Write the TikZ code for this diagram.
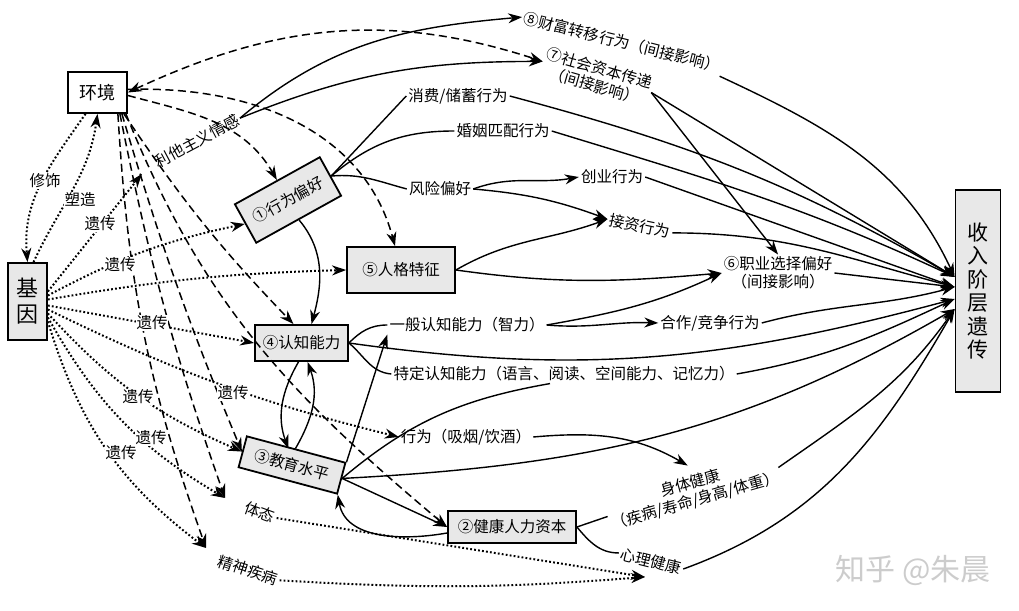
\documentclass[tikz,border=0pt]{standalone}
\usepackage{fontspec}
\setmainfont{Noto Sans CJK SC}
\usetikzlibrary{arrows.meta}

\begin{document}
\begin{tikzpicture}[x=1pt,y=1pt,
    font=\fontsize{15.5}{18}\selectfont,
    >={Stealth[length=14pt,width=10pt]},
    box/.style={draw, line width=1.8pt, fill=gray!18, inner sep=3pt},
    lab/.style={inner sep=2pt},
    tag/.style={fill=white, inner sep=0.5pt},
    arr/.style={->, line width=1.4pt},
    ln/.style={line width=1.4pt},
    genearr/.style={->, line width=2pt, dash pattern=on 1.8pt off 2.2pt},
    envarr/.style={->, line width=1.5pt, dash pattern=on 8pt off 4.5pt}]
    \useasboundingbox (0,0) rectangle (1019,610);

    %boxes
    \node[box, fill=white, minimum width=59pt, minimum height=41pt, font=\fontsize{18}{20}\selectfont] (env) at (97.5,517.5) {环境};
    \node[box, minimum width=39pt, minimum height=77pt, align=center, font=\fontsize{22}{26}\selectfont] (gene) at (27.5,308.5) {基\\因};
    \node[box, minimum width=45pt, minimum height=202pt, align=center, font=\fontsize{21}{23.5}\selectfont] (inc) at (978,319) {收\\入\\阶\\层\\遗\\传};
    \node[box, rotate=29, minimum width=97pt, minimum height=44pt] (pref) at (288,410) {①行为偏好};
    \node[box, minimum width=108pt, minimum height=46pt] (pers) at (401,340) {⑤人格特征};
    \node[box, minimum width=93pt, minimum height=36pt] (cog) at (301.5,267) {④认知能力};
    \node[box, rotate=-15, minimum width=102pt, minimum height=32pt] (edu) at (292,145) {③教育水平};
    \node[box, minimum width=128pt, minimum height=32pt] (health) at (512,83) {②健康人力资本};

    %labels
    \node[lab, rotate=-14] (wealth) at (622,568) {⑧财富转移行为（间接影响）};
    \node[lab, rotate=-16, align=center] (social) at (597,533) {⑦社会资本传递\\（间接影响）};
    \node[lab] (cons) at (458,514) {消费/储蓄行为};
    \node[lab] (marr) at (503,479) {婚姻匹配行为};
    \node[lab] (risk) at (440,421) {风险偏好};
    \node[lab] (entr) at (612,433) {创业行为};
    \node[lab, rotate=-12] (inv) at (640,384) {接资行为};
    \node[lab, align=center] (occ) at (778,337) {⑥职业选择偏好\\（间接影响）};
    \node[lab] (gcog) at (467,285) {一般认知能力（智力）};
    \node[lab] (coop) at (710,287) {合作/竞争行为};
    \node[lab] (scog) at (564,236) {特定认知能力（语言、阅读、空间能力、记忆力）};
    \node[lab] (smoke) at (466,173) {行为（吸烟/饮酒）};
    \node[lab, rotate=16, align=center] (phys) at (693,118) {身体健康\\（疾病/寿命/身高/体重）};
    \node[lab, rotate=-14] (ment) at (651,49) {心理健康};
    \node[lab, rotate=-20] (post) at (260,98) {体态};
    \node[lab, rotate=-18] (mind) at (248,40) {精神疾病};
    \node[lab, rotate=28] (altr) at (197,469) {利他主义情感};
    \node[text=gray!40, font=\fontsize{30}{32}\selectfont] (mark) at (913,40) {知乎 @朱晨};

    \coordinate (postin) at (225,112);
    \coordinate (mindin) at (206,62);
    \coordinate (mentin) at (645,33);
    \coordinate (inA) at ([yshift=14pt]inc.west);
    \coordinate (inB) at ([yshift=4pt]inc.west);
    \coordinate (inC) at ([yshift=-8pt]inc.west);
    \coordinate (inD) at ([yshift=-18pt]inc.west);

    %gene (dotted)
    \draw[genearr] ([xshift=-12pt]env.south) to[out=235,in=95] (gene.north);
    \draw[genearr] ([xshift=6pt]gene.north) to[out=65,in=262] (env.south);
    \draw[genearr] ([yshift=10pt]gene.east) -- ([shift={(-12,-10)}]altr.west);
    \draw[genearr] ([yshift=6pt]gene.east) to[bend left=8] (pref.west);
    \draw[genearr] ([yshift=2pt]gene.east) to[bend left=4] (pers.west);
    \draw[genearr] ([yshift=-4pt]gene.east) -- (cog.west);
    \draw[genearr] ([yshift=-8pt]gene.east) to[bend right=6] (smoke.west);
    \draw[genearr] ([yshift=-12pt]gene.east) to[bend right=12] (edu.west);
    \draw[genearr] ([yshift=-16pt]gene.east) to[bend right=15] (postin);
    \draw[genearr] ([yshift=-20pt]gene.east) to[bend right=18] (mindin);
    \draw[genearr] (post.east) -- (mentin);
    \draw[genearr] (mind.east) to[bend right=4] (mentin);

    %environment (dashed)
    \draw[envarr, <->] (env.east) to[out=25,in=162] (social.west);
    \draw[envarr] ([yshift=3pt]env.east) to[out=2,in=105] ([xshift=-6pt]pers.north);
    \draw[envarr] ([yshift=-3pt]env.east) to[out=-15,in=120] (pref.north);
    \draw[envarr] ([xshift=-4pt]env.south east) to[bend right=5] ([xshift=-8pt]cog.north);
    \draw[envarr] ([xshift=-2pt]env.south east) to[out=-68,in=140] (health.west);
    \draw[envarr] ([xshift=-6pt]env.south east) to[bend right=3] (edu.west);
    \draw[envarr] ([xshift=-8pt]env.south east) to[bend right=4] (postin);
    \draw[envarr] ([xshift=-10pt]env.south east) to[bend right=8] (mindin);

    %links between factors
    \draw[arr] (altr.east) to[out=40,in=185] (wealth.west);
    \draw[arr] (altr.east) to[out=22,in=180] (social.west);
    \draw[ln] (pref.east) -- (cons.west);
    \draw[ln] (pref.east) to[out=40,in=180] (marr.west);
    \draw[ln] (pref.east) to[out=5,in=165] (risk.west);
    \draw[arr] (risk.east) to[out=20,in=190] (entr.west);
    \draw[arr] (risk.east) to[out=-5,in=160] (inv.west);
    \draw[arr] (pref.south) to[out=-50,in=75] ([xshift=10pt]cog.north);
    \draw[arr] (pers.east) to[out=30,in=200] (inv.west);
    \draw[arr] (pers.east) to[out=-8,in=185] (occ.west);
    \draw[arr] (gcog.east) to[out=10,in=205] (occ.west);
    \draw[arr] (gcog.east) to[out=-5,in=178] (coop.west);
    \draw[ln] (cog.east) to[out=45,in=180] (gcog.west);
    \draw[ln] (cog.east) to[out=-40,in=175] (scog.west);
    \draw[arr] ([xshift=-3pt]cog.south) to[out=240,in=110] ([xshift=-8pt]edu.north);
    \draw[arr] ([xshift=-1pt]edu.north) to[out=60,in=-70] ([xshift=6pt]cog.south);
    \draw[arr] (edu.north east) -- (gcog.south west);
    \draw[ln] (edu.east) to[out=40,in=190] ([xshift=-14pt]scog.south);
    \draw[arr] (edu.east) -- (health.west);
    \draw[arr] ([yshift=-6pt]health.west) to[out=190,in=-80] (edu.south east);
    \draw[arr] (smoke.east) to[out=5,in=150] ([yshift=8pt]phys.north);
    \draw[ln] (health.east) -- (phys.west);
    \draw[ln] (health.east) to[out=-50,in=180] (ment.west);
    \draw[arr] (social.east) -- (occ.north);

    %to income
    \draw[arr] (wealth.south east) to[out=-25,in=115] (inA);
    \draw[arr] (social.east) -- (inA);
    \draw[arr] (cons.east) to[out=-15,in=150] (inA);
    \draw[arr] (marr.east) to[out=-17,in=155] (inA);
    \draw[arr] (entr.east) -- (inB);
    \draw[arr] (inv.east) to[out=0,in=165] (inB);
    \draw[arr] (occ.east) -- (inB);
    \draw[arr] (coop.east) to[out=15,in=195] (inB);
    \draw[arr] (cog.east) to[out=-8,in=195] (inC);
    \draw[arr] (scog.east) to[out=10,in=205] (inC);
    \draw[arr] (edu.east) to[out=3,in=210] (inD);
    \draw[arr] (phys.east) to[out=35,in=235] (inD);
    \draw[arr] (ment.east) to[out=20,in=240] (inD);

    %gene labels
    \node[tag] (tmod) at (45,429) {修饰};
    \node[tag] (tshape) at (80,410) {塑造};
    \node[tag] (th1) at (100,386) {遗传};
    \node[tag] (th2) at (120,345) {遗传};
    \node[tag] (th3) at (152,287) {遗传};
    \node[tag] (th4) at (233,217) {遗传};
    \node[tag] (th5) at (138,213) {遗传};
    \node[tag] (th6) at (151,172) {遗传};
    \node[tag] (th7) at (121,157) {遗传};
\end{tikzpicture}
\end{document}
